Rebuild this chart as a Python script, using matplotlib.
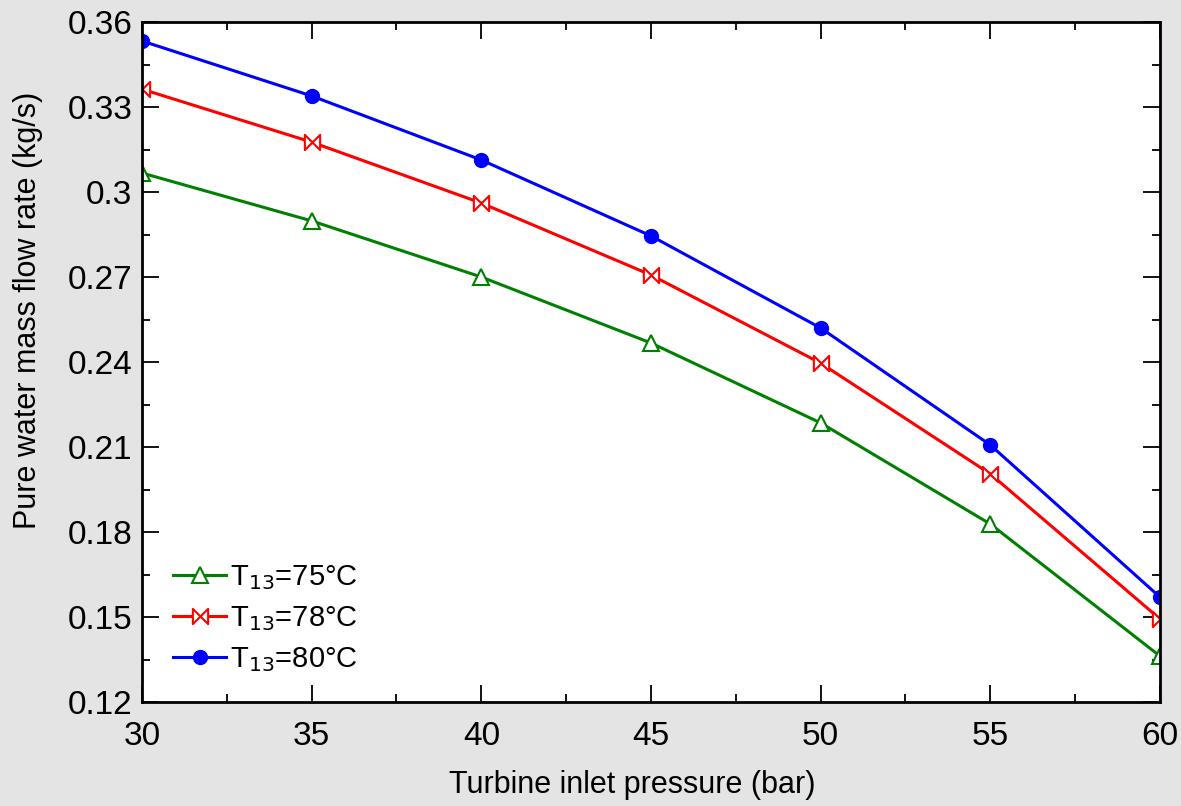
import numpy as np
import matplotlib.pyplot as plt
from matplotlib.path import Path
from matplotlib.ticker import MultipleLocator

plt.rcParams['font.family'] = ['Liberation Sans', 'DejaVu Sans']

# data
pressure = [30, 35, 40, 45, 50, 55, 60]
flow_75 = [0.3067, 0.2898, 0.2700, 0.2467, 0.2185, 0.1828, 0.1362]
flow_78 = [0.3363, 0.3176, 0.2961, 0.2707, 0.2396, 0.2005, 0.1493]
flow_80 = [0.3533, 0.3339, 0.3113, 0.2845, 0.2520, 0.2107, 0.1570]
labels = ['T$_{13}$=75°C', 'T$_{13}$=78°C', 'T$_{13}$=80°C']
yticks = [0.12, 0.15, 0.18, 0.21, 0.24, 0.27, 0.30, 0.33, 0.36]
ytick_labels = ['0.12', '0.15', '0.18', '0.21', '0.24', '0.27', '0.3', '0.33', '0.36']

# bowtie marker (two triangles tip to tip)
bowtie = Path([(-1, -1), (-1, 1), (0, 0), (1, 1), (1, -1), (0, 0), (-1, -1)],
              [Path.MOVETO, Path.LINETO, Path.LINETO, Path.LINETO, Path.LINETO,
               Path.LINETO, Path.CLOSEPOLY])

fig = plt.figure(figsize=(11.81, 8.06), dpi=100, facecolor='#e4e4e4')
ax = fig.add_axes([142/1181, 1 - 702/806, (1160-142)/1181, (702-22)/806])

ax.plot(pressure, flow_75, '-', color='#008000', lw=2.2, marker='^', ms=12,
        mfc='white', mec='#008000', mew=1.5, label=labels[0])
ax.plot(pressure, flow_78, '-', color='#ff0000', lw=2.2, marker=bowtie, ms=11,
        mfc='white', mec='#ff0000', mew=1.5, label=labels[1])
ax.plot(pressure, flow_80, '-', color='#0000ff', lw=2.2, marker='o', ms=10,
        mfc='#0000ff', mec='#0000ff', label=labels[2])

ax.set_xlim(30, 60)
ax.set_ylim(0.12, 0.36)
ax.xaxis.set_major_locator(MultipleLocator(5))
ax.xaxis.set_minor_locator(MultipleLocator(2.5))
ax.set_yticks(yticks)
ax.set_yticklabels(ytick_labels)
ax.yaxis.set_minor_locator(MultipleLocator(0.015))

ax.tick_params(which='both', direction='in', top=True, right=True, width=1.3,
               labelsize=24)
ax.tick_params(axis='x', pad=14)
ax.tick_params(axis='y', pad=7)
ax.tick_params(which='major', length=12)
ax.tick_params(which='minor', length=6)
for s in ax.spines.values():
    s.set_linewidth(2)

ax.set_xlabel('Turbine inlet pressure (bar)', fontsize=22)
ax.xaxis.set_label_coords(0.482, -0.1, transform=ax.transAxes)
ax.xaxis.label.set_va('top')
ax.set_ylabel('Pure water mass flow rate (kg/s)', fontsize=22)
ax.yaxis.set_label_coords(-0.112, 0.576, transform=ax.transAxes)
ax.yaxis.label.set_va('center')

ax.legend(loc='lower left', bbox_to_anchor=(0.005, 0.003), frameon=False,
          fontsize=21, handlelength=1.8, handletextpad=0.15, labelspacing=0.42)

fig.savefig('out.png', dpi=100, facecolor=fig.get_facecolor())
